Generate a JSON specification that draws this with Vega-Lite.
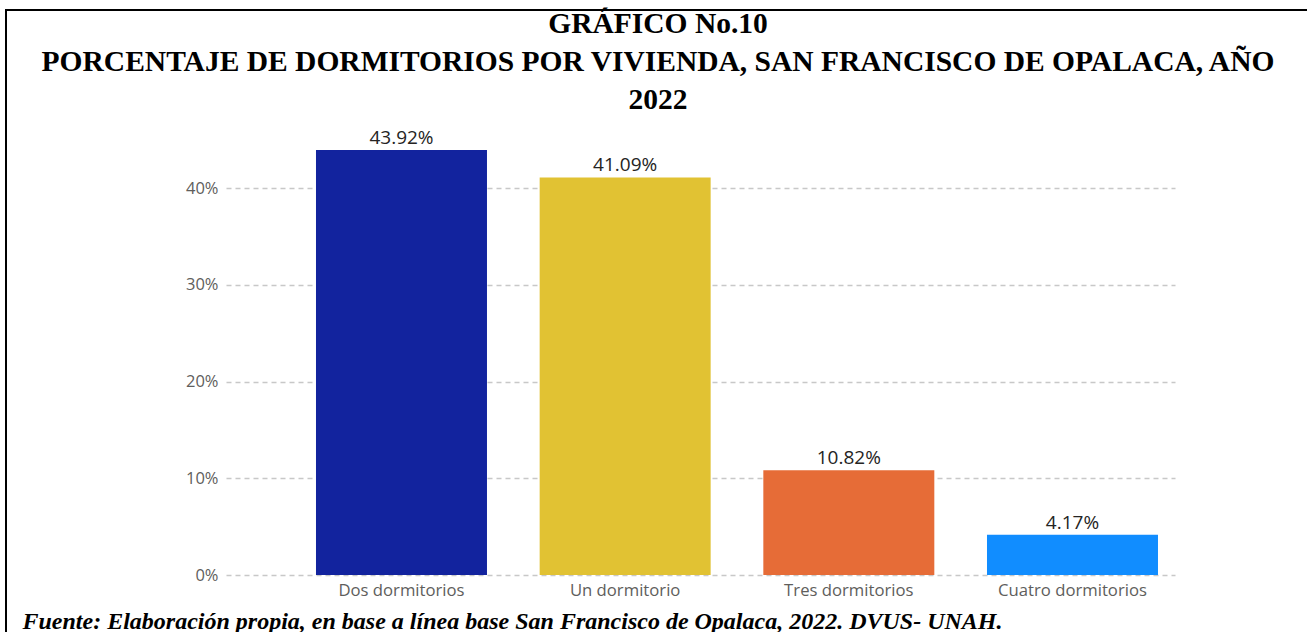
{
  "$schema": "https://vega.github.io/schema/vega-lite/v6.json",
  "autosize": {"type": "none"},
  "padding": {"left": 6, "top": 10, "right": 0, "bottom": 0},
  "width": 1310,
  "height": 640,
  "background": "white",
  "title": {
    "text": ["GRÁFICO No.10", "PORCENTAJE DE DORMITORIOS POR VIVIENDA, SAN FRANCISCO DE OPALACA, AÑO", "2022"],
    "font": "Liberation Serif",
    "fontSize": 29.5,
    "fontWeight": "bold",
    "color": "#000000",
    "lineHeight": 38,
    "anchor": "middle",
    "frame": "group",
    "dx": -3,
    "offset": -105
  },
  "data": {
    "values": [
      {"categoria": "Dos dormitorios", "porcentaje": 0.4392},
      {"categoria": "Un dormitorio", "porcentaje": 0.4109},
      {"categoria": "Tres dormitorios", "porcentaje": 0.1082},
      {"categoria": "Cuatro dormitorios", "porcentaje": 0.0417}
    ]
  },
  "encoding": {
    "x": {
      "field": "categoria",
      "type": "nominal",
      "sort": null,
      "scale": {"range": [220, 1169], "paddingInner": 0.2355, "paddingOuter": 0.2392, "align": 0.841},
      "axis": {
        "title": "Fuente: Elaboración propia, en base a línea base San Francisco de Opalaca, 2022. DVUS- UNAH.",
        "titleFont": "Liberation Serif",
        "titleFontSize": 24,
        "titleFontWeight": "bold",
        "titleFontStyle": "italic",
        "titleColor": "#000000",
        "titleAlign": "left",
        "titleBaseline": "alphabetic",
        "titleX": 16,
        "titleY": 53,
        "offset": -75,
        "domain": false,
        "ticks": false,
        "labelAngle": 0,
        "labelFont": "Open Sans",
        "labelFontSize": 16.7,
        "labelColor": "#605E5C",
        "labelPadding": 7
      }
    },
    "y": {
      "field": "porcentaje",
      "type": "quantitative",
      "scale": {"domain": [0, 0.4], "range": [565, 178], "nice": false},
      "axis": {
        "title": null,
        "values": [0, 0.1, 0.2, 0.3, 0.4],
        "format": ".0%",
        "offset": -218,
        "domain": false,
        "ticks": false,
        "labelFont": "Open Sans",
        "labelFontSize": 16.5,
        "labelColor": "#605E5C",
        "labelPadding": 6,
        "grid": true,
        "gridColor": "#C8C8C8",
        "gridDash": [5, 4],
        "gridWidth": 1.5
      }
    }
  },
  "layer": [
    {
      "mark": {"type": "bar"},
      "encoding": {
        "color": {
          "field": "categoria",
          "type": "nominal",
          "scale": {
            "domain": ["Dos dormitorios", "Un dormitorio", "Tres dormitorios", "Cuatro dormitorios"],
            "range": ["#12239E", "#E1C233", "#E66C37", "#118DFF"]
          },
          "legend": null
        }
      }
    },
    {
      "mark": {"type": "text", "baseline": "alphabetic", "dy": -6, "font": "Open Sans", "fontSize": 19, "color": "#252423"},
      "encoding": {
        "text": {"field": "porcentaje", "type": "quantitative", "format": ".2%"}
      }
    }
  ],
  "config": {
    "view": {"stroke": "#000000", "strokeWidth": 2}
  }
}
